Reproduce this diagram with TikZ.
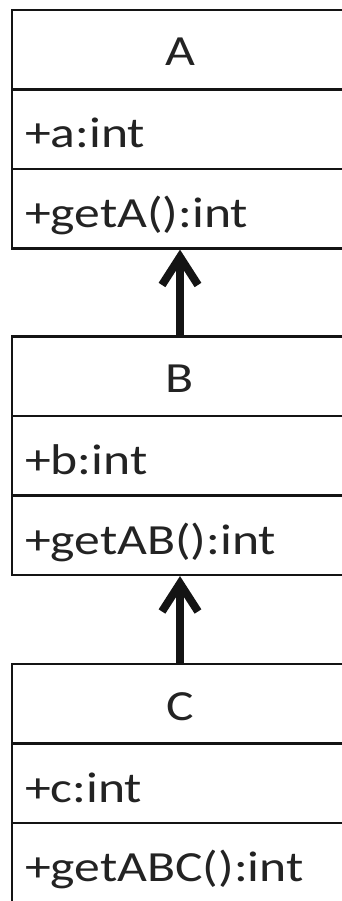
\documentclass[tikz,border=0pt]{standalone}
\usepackage{fontspec}
\setmainfont[FakeStretch=1.2]{Carlito}
\usepackage{tikz}
\usetikzlibrary{arrows.meta, positioning}
\usepackage{xcolor}
\definecolor{umlline}{RGB}{20, 20, 20}
\definecolor{umltext}{RGB}{35, 35, 35}

\begin{document}
\begin{tikzpicture}[node distance=79.5pt,
    classname/.style={draw=umlline, line width=2.2pt, rectangle, minimum width=336pt,
        inner sep=0pt, text height=56pt, text depth=23.5pt, text=umltext,
        font=\fontsize{43}{50}\selectfont},
    member/.style={classname, text width=310pt, inner xsep=13pt, align=left,
        text height=58.5pt, text depth=21pt}]
    \clip (0,0) rectangle (342pt,-901pt);
    % class A
    \node[classname] (aname) at (180pt,-49.75pt) {A};
    \node[member, below of=aname] (aattr) {+a:int};
    \node[member, below of=aattr] (aop) {+getA():int};
    % class B
    \node[classname, below of=aop, yshift=-88pt] (bname) {B};
    \node[member, below of=bname] (battr) {+b:int};
    \node[member, below of=battr] (bop) {+getAB():int};
    % class C
    \node[classname, below of=bop, yshift=-89pt] (cname) {C};
    \node[member, below of=cname] (cattr) {+c:int};
    \node[member, below of=cattr] (cop) {+getABC():int};
    % generalisation arrows
    \draw[line width=8pt, umlline, -{Straight Barb[length=28pt, width=36pt]}] (bname) -- (aop);
    \draw[line width=8pt, umlline, -{Straight Barb[length=28pt, width=36pt]}] (cname) -- (bop);
\end{tikzpicture}
\end{document}
